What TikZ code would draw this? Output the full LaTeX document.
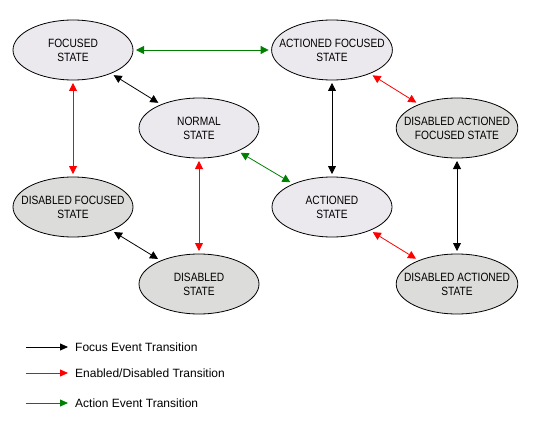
\documentclass[tikz,border=0pt]{standalone}
\usepackage{fontspec}
\setmainfont{Liberation Sans}
\newfontfamily\statefont{Liberation Sans}[FakeStretch=0.85]
\usepackage{tikz}
\usetikzlibrary{shapes.geometric, arrows.meta}
\definecolor{lightstate}{RGB}{236,233,238}
\definecolor{greystate}{RGB}{220,220,218}
\definecolor{actgreen}{RGB}{0,128,0}
\tikzset{
  state/.style={ellipse, draw, line width=0.8pt, fill=lightstate,
    minimum width=120pt, minimum height=60pt, inner xsep=-10pt, inner ysep=0pt,
    outer sep=3pt, align=center, font=\statefont\fontsize{12}{14}\selectfont},
  disabled/.style={state, fill=greystate},
  trans/.style={{Triangle[length=8pt,width=8pt]}-{Triangle[length=8pt,width=8pt]}, line width=0.8pt},
  legendline/.style={-{Triangle[length=8pt,width=7pt]}, line width=0.8pt, shorten >=4pt},
  legendtext/.style={anchor=west, inner sep=3pt, font=\fontsize{12}{14}\selectfont}
}

\begin{document}
\begin{tikzpicture}[x=1pt, y=-1pt]
\useasboundingbox (0,0) rectangle (533,428);

% states
\node[state] (focused) at (73,50) {FOCUSED\\STATE};
\node[state] (normal) at (199,128) {NORMAL\\STATE};
\node[state] (actfocused) at (332,50) {ACTIONED FOCUSED\\STATE};
\node[state] (actioned) at (332,207) {ACTIONED\\STATE};
\node[disabled] (disfocused) at (73,207) {DISABLED FOCUSED\\STATE};
\node[disabled] (disabled) at (199,284) {DISABLED\\STATE};
\node[disabled] (disactfocused) at (457,128) {DISABLED ACTIONED\\FOCUSED STATE};
\node[disabled] (disactioned) at (457,284) {DISABLED ACTIONED\\STATE};

% focus events
\draw[trans] (focused) -- (normal);
\draw[trans] (disfocused) -- (disabled);
\draw[trans] (actfocused) -- (actioned);
\draw[trans] (disactfocused) -- (disactioned);

% enabled/disabled
\draw[trans, red] (focused) -- (disfocused);
\draw[trans, red] (normal) -- (disabled);
\draw[trans, red] (actfocused) -- (disactfocused);
\draw[trans, red] (actioned) -- (disactioned);

% action events
\draw[trans, actgreen] (focused) -- (actfocused);
\draw[trans, actgreen] (normal) -- (actioned);

% legend
\coordinate (focusstart) at (26,347);
\coordinate (enablestart) at (26,373);
\coordinate (actionstart) at (26,403);
\node[legendtext] (focuslbl) at (72,347) {Focus Event Transition};
\node[legendtext] (enablelbl) at (72,373) {Enabled/Disabled Transition};
\node[legendtext] (actionlbl) at (72,403) {Action Event Transition};
\draw[legendline] (focusstart) -- (focuslbl.west);
\draw[legendline, red] (enablestart) -- (enablelbl.west);
\draw[legendline, actgreen] (actionstart) -- (actionlbl.west);

\end{tikzpicture}
\end{document}
